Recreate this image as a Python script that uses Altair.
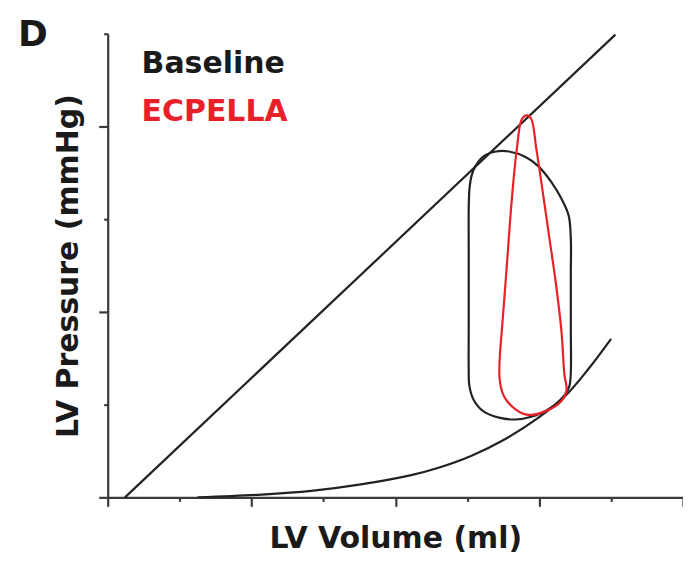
import altair as alt
import pandas as pd

# ---- data (x: LV volume units, y: LV pressure units) ----
espvr_x = [0.24, 7.06]
espvr_y = [0.00, 4.99]

edpvr_x = [1.25, 2.14, 2.83, 3.52, 4.22, 4.60, 5.06, 5.53, 5.99, 6.37, 6.69, 7.00]
edpvr_y = [0.00, 0.03, 0.07, 0.14, 0.24, 0.32, 0.45, 0.63, 0.86, 1.10, 1.39, 1.71]

baseline_x = [5.02, 5.02, 5.02, 5.03, 5.06, 5.12, 5.23, 5.40, 5.58, 5.81, 5.99, 6.17, 6.31, 6.41,
              6.44, 6.44, 6.44, 6.44, 6.42, 6.35, 6.13, 5.89, 5.67, 5.44, 5.22, 5.09, 5.03,
              5.02, 5.02, 5.02]
baseline_y = [2.14, 2.70, 3.10, 3.32, 3.47, 3.58, 3.68, 3.73, 3.73, 3.67, 3.57, 3.40, 3.22, 3.04,
              2.79, 2.40, 1.80, 1.35, 1.20, 1.10, 0.95, 0.87, 0.84, 0.86, 0.93, 1.05, 1.20,
              1.40, 1.80, 2.14]

ecpella_x = [5.48, 5.55, 5.62, 5.69, 5.76, 5.83, 5.89, 5.96, 6.03, 6.13, 6.23, 6.31,
             6.35, 6.38, 6.31, 6.09, 5.85, 5.67, 5.51, 5.45, 5.48]
ecpella_y = [1.79, 2.50, 3.22, 3.76, 4.08, 4.12, 4.08, 3.76, 3.40, 2.86, 2.32, 1.79,
             1.33, 1.15, 1.04, 0.93, 0.89, 0.95, 1.09, 1.28, 1.79]

x_ticks = [0, 1, 2, 3, 4, 5, 6, 7, 8]
y_ticks = [0, 1, 2, 3, 4, 5]

curve_names = ["ESPVR", "EDPVR", "Baseline", "ECPELLA"]
curve_colors = ["#222222", "#222222", "#222222", "#e8202a"]

legend_labels = ["Baseline", "ECPELLA"]
panel_label = "D"
x_title = "LV Volume (ml)"
y_title = "LV Pressure (mmHg)"

# ---- build table ----
rows = []
for name, xs, ys in [("ESPVR", espvr_x, espvr_y), ("EDPVR", edpvr_x, edpvr_y),
                     ("Baseline", baseline_x, baseline_y), ("ECPELLA", ecpella_x, ecpella_y)]:
    for i, (xv, yv) in enumerate(zip(xs, ys)):
        rows.append({"curve": name, "idx": i, "x": xv, "y": yv})
df = pd.DataFrame(rows)

W, H = 577, 465
FONT = "DejaVu Sans"

tick_cond = {"condition": {"test": "datum.value % 2 === 0", "value": 9}, "value": 4}

x_axis = alt.Axis(values=x_ticks, labels=False, title=None, grid=False,
                  domainColor="#3a3a3a", domainWidth=2.2, tickColor="#3a3a3a",
                  tickWidth=2.2, tickSize=tick_cond)
y_axis = alt.Axis(values=y_ticks, labels=False, title=None, grid=False,
                  domainColor="#3a3a3a", domainWidth=2.2, tickColor="#3a3a3a",
                  tickWidth=2.2, tickSize=tick_cond)

lines = alt.Chart(df).mark_line(interpolate="catmull-rom", strokeWidth=2.2).encode(
    x=alt.X("x:Q", scale=alt.Scale(domain=[0, 8], nice=False, zero=False), axis=x_axis),
    y=alt.Y("y:Q", scale=alt.Scale(domain=[0, 5], nice=False, zero=False), axis=y_axis),
    color=alt.Color("curve:N", scale=alt.Scale(domain=curve_names, range=curve_colors), legend=None),
    detail="curve:N",
    order="idx:Q",
)

def label(text, x, y, size, color="#1a1a1a", angle=0, align="left"):
    return alt.Chart(pd.DataFrame({"t": [text]})).mark_text(
        font=FONT, fontWeight="bold", fontSize=size, color=color, align=align,
        baseline="alphabetic", angle=angle,
    ).encode(x=alt.value(x), y=alt.value(y), text="t:N")

layers = [
    lines,
    label(legend_labels[0], 34, 39, 30),
    label(legend_labels[1], 34, 88, 30, color="#e8202a"),
    label(panel_label, -90, 12, 36),
    label(x_title, 289, 516, 30, align="center"),
    label(y_title, -30, 233, 30, angle=270, align="center"),
]

chart = alt.layer(*layers).properties(
    width=W, height=H,
    autosize=alt.AutoSizeParams(type="none"),
    padding={"left": 100, "top": 25, "right": 0, "bottom": 60},
).configure_view(strokeWidth=0)

chart.save("out.html", embed_options={"renderer": "svg", "actions": False})
